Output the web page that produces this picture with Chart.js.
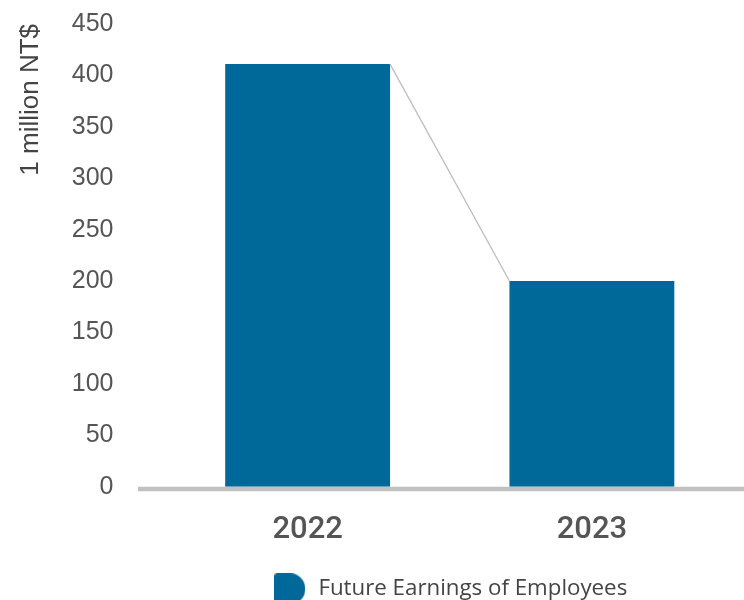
<!DOCTYPE html>
<html>
<head>
<meta charset="utf-8">
<script src="https://cdn.jsdelivr.net/npm/chart.js@4/dist/chart.umd.min.js"></script>
<style>
  html, body { margin: 0; padding: 0; background: #ffffff; }
  #wrap { width: 744px; height: 600px; position: relative; }
</style>
</head>
<body>
<div id="wrap"><canvas id="c" width="744" height="600"></canvas></div>
<script>
// ---- data ----
const categories = ["2022", "2023"];
const earnings = [411, 200];
const seriesName = "Future Earnings of Employees";
const axisTitle = "1 million NT$";
const yMin = 0, yMax = 450, yStep = 50;

const barColor = "#00699A";

// legend icon (leaf-like rounded square)
function makeIcon() {
  const s = 31;
  const cv = document.createElement("canvas");
  cv.width = s; cv.height = s;
  const g = cv.getContext("2d");
  g.fillStyle = barColor;
  g.beginPath();
  g.roundRect(0, 0, s, s, [3, 15, 15, 3]);
  g.fill();
  return cv;
}
const icon = makeIcon();

const connector = {
  id: "connector",
  beforeDatasetsDraw(chart) {
    const { ctx, chartArea, scales } = chart;
    const y0 = scales.y.getPixelForValue(0);
    ctx.save();
    ctx.strokeStyle = "#C0C0C0";
    ctx.lineWidth = 4.5;
    ctx.beginPath();
    ctx.moveTo(chartArea.left - 27.5, y0 + 2.2);
    ctx.lineTo(chart.width, y0 + 2.2);
    ctx.stroke();
    ctx.restore();
  },
  afterDatasetsDraw(chart) {
    const { ctx } = chart;
    const bars = chart.getDatasetMeta(0).data;
    ctx.save();
    ctx.strokeStyle = "#BDBDBD";
    ctx.lineWidth = 1.3;
    ctx.beginPath();
    for (let i = 0; i < bars.length - 1; i++) {
      const a = bars[i], b = bars[i + 1];
      ctx.moveTo(a.x + a.width / 2, a.y);
      ctx.lineTo(b.x - b.width / 2, b.y);
    }
    ctx.stroke();
    ctx.restore();
  }
};

new Chart(document.getElementById("c"), {
  type: "bar",
  data: {
    labels: categories,
    datasets: [{
      label: seriesName,
      data: earnings,
      backgroundColor: barColor,
      borderWidth: 0,
      categoryPercentage: 1,
      barPercentage: 0.58,
      pointStyle: icon
    }]
  },
  options: {
    responsive: false,
    animation: false,
    devicePixelRatio: 1,
    layout: { padding: { top: 24, left: 0, right: 10, bottom: -10 } },
    scales: {
      x: {
        grid: { display: false, drawTicks: false },
        border: { display: false },
        ticks: {
          padding: 25,
          color: "#555555",
          font: { family: "Roboto", size: 31, weight: "500" }
        },
        afterFit(scale) { scale.height = 81; }
      },
      y: {
        min: yMin, max: yMax,
        grid: { display: false, drawTicks: true, tickLength: 52 },
        border: { display: false },
        ticks: {
          stepSize: yStep,
          padding: 0,
          color: "#555555",
          font: { family: "Liberation Sans", size: 25 }
        },
        title: {
          display: true,
          text: axisTitle,
          align: "end",
          color: "#444444",
          padding: { top: 15, bottom: 10 },
          font: { family: "Liberation Sans", size: 26, weight: "normal" }
        },
        afterFit(scale) { scale.width = 165.5; }
      }
    },
    plugins: {
      tooltip: { enabled: false },
      legend: {
        position: "bottom",
        fullSize: false,
        labels: {
          usePointStyle: true,
          pointStyleWidth: 35,
          padding: 10,
          color: "#444444",
          font: { family: "Open Sans", size: 22.3 }
        }
      }
    }
  },
  plugins: [connector]
});
</script>
</body>
</html>
